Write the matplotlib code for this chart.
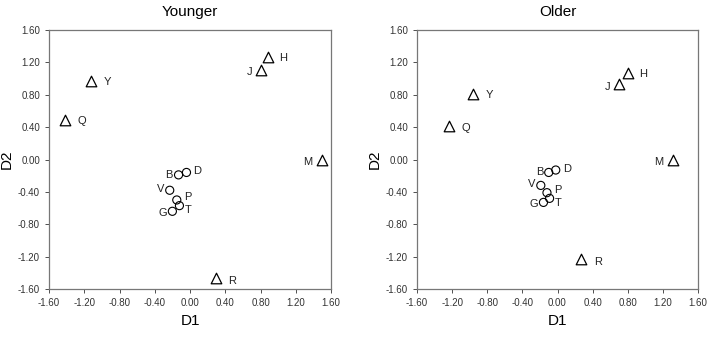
import matplotlib
matplotlib.use("Agg")
import matplotlib.pyplot as plt
import numpy as np

plt.rcParams['font.family'] = ['Liberation Sans', 'DejaVu Sans']

names = ['H', 'J', 'Y', 'Q', 'M', 'R', 'B', 'D', 'V', 'P', 'T', 'G']
is_triangle = [True, True, True, True, True, True, False, False, False, False, False, False]

young_d1 = [0.89, 0.80, -1.12, -1.42, 1.50, 0.29, -0.13, -0.04, -0.23, -0.15, -0.12, -0.20]
young_d2 = [1.27, 1.11, 0.97, 0.49, 0.00, -1.47, -0.19, -0.16, -0.38, -0.50, -0.57, -0.64]

old_d1 = [0.80, 0.70, -0.96, -1.23, 1.32, 0.27, -0.10, -0.02, -0.19, -0.12, -0.09, -0.16]
old_d2 = [1.07, 0.93, 0.81, 0.41, 0.00, -1.23, -0.16, -0.13, -0.32, -0.41, -0.48, -0.53]

ticks = [-1.6, -1.2, -0.8, -0.4, 0.0, 0.4, 0.8, 1.2, 1.6]
tick_labels = ['-1.60', '-1.20', '-0.80', '-0.40', '0.00', '0.40', '0.80', '1.20', '1.60']

# label offsets in points (dx, dy, ha)
offsets = {
    'H': (8, -1, 'left'), 'J': (-6, -2, 'right'), 'Y': (9, -1, 'left'),
    'Q': (9, -1, 'left'), 'M': (-7, -2, 'right'), 'R': (9, -2, 'left'),
    'B': (-4, 0, 'right'), 'D': (5, 1, 'left'), 'V': (-4, 1, 'right'),
    'P': (5, 2, 'left'), 'T': (4, -3, 'left'), 'G': (-4, -1, 'right'),
}


def draw_panel(ax, d1, d2, title):
    d1 = np.array(d1)
    d2 = np.array(d2)
    tri = np.array(is_triangle)
    ax.scatter(d1[tri], d2[tri], marker='^', s=58, facecolors='white',
               edgecolors='black', linewidths=0.9, zorder=3)
    ax.scatter(d1[~tri], d2[~tri], marker='o', s=34, facecolors='none',
               edgecolors='black', linewidths=0.8, zorder=3)
    for n, x, y in zip(names, d1, d2):
        dx, dy, ha = offsets[n]
        ax.annotate(n, (x, y), xytext=(dx, dy), textcoords='offset points',
                    ha=ha, va='center', fontsize=8, color='#222222')
    ax.set_xlim(-1.6, 1.6)
    ax.set_ylim(-1.6, 1.6)
    ax.set_xticks(ticks)
    ax.set_yticks(ticks)
    ax.set_xticklabels(tick_labels, fontsize=7)
    ax.set_yticklabels(tick_labels, fontsize=7)
    ax.tick_params(direction='out', length=3, width=0.6, colors='#333333',
                   top=False, right=False)
    for s in ax.spines.values():
        s.set_color('#777777')
        s.set_linewidth(0.9)
    ax.set_xlabel('D1', fontsize=11, labelpad=4)
    ax.set_ylabel('D2', fontsize=11, labelpad=3)
    ax.set_title(title, fontsize=11, pad=10)


fig = plt.figure(figsize=(7.1, 3.38), dpi=100)
ax1 = fig.add_axes([49 / 710, 1 - 289 / 338, 282 / 710, 259 / 338])
ax2 = fig.add_axes([417 / 710, 1 - 289 / 338, 281 / 710, 259 / 338])
draw_panel(ax1, young_d1, young_d2, 'Younger')
draw_panel(ax2, old_d1, old_d2, 'Older')

fig.savefig('out.png', dpi=100)
